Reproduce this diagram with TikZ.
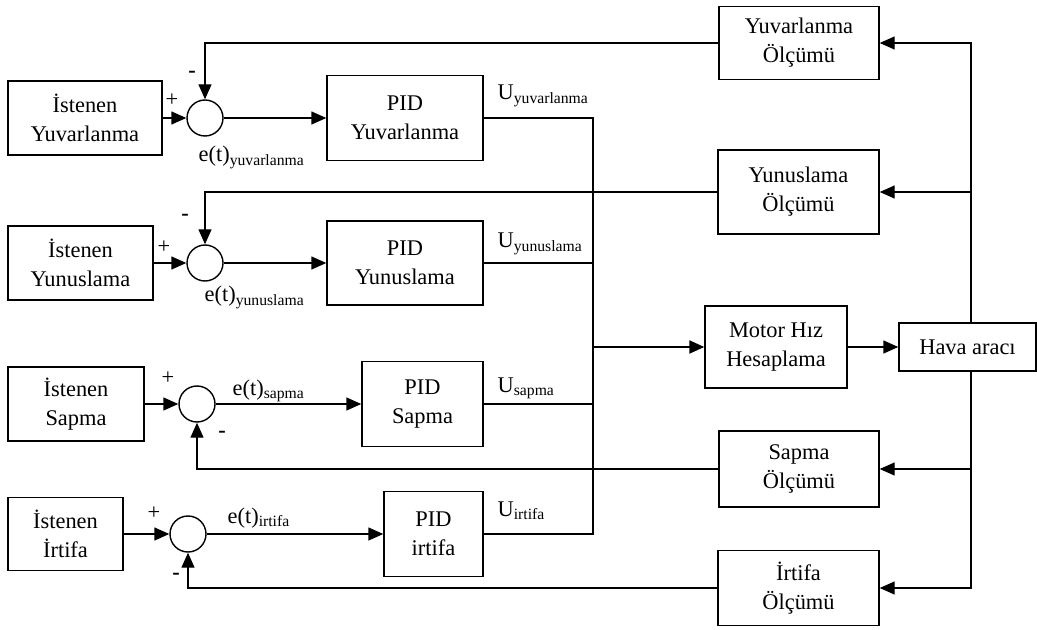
\documentclass[tikz,border=0pt]{standalone}
\usepackage{fontspec}
\setmainfont{Liberation Serif}
\usetikzlibrary{arrows.meta}
\begin{document}
\begin{tikzpicture}[x=0.5pt,y=-0.5pt,
  font=\fontsize{11.2pt}{14.5pt}\selectfont,
  line width=0.7pt,
  box/.style={draw,align=center,inner sep=0pt},
  summer/.style={draw,circle,minimum size=18pt,inner sep=0pt},
  arr/.style={-{Triangle[length=7.5pt,width=6.5pt]}},
  sign/.style={inner sep=0pt},
  lbl/.style={anchor=base west,inner sep=0pt}]
\useasboundingbox (0,0) rectangle (1037,630);

% reference inputs
\node[box,minimum width=77pt,minimum height=37pt] (isY) at (85,118) {İstenen\\Yuvarlanma};
\node[box,minimum width=72.5pt,minimum height=37pt] (isYn) at (80.5,263) {İstenen\\Yunuslama};
\node[box,minimum width=68pt,minimum height=37pt] (isS) at (76,404) {İstenen\\Sapma};
\node[box,minimum width=57.5pt,minimum height=36.5pt] (isI) at (65.5,534) {İstenen\\İrtifa};

% summing junctions
\node[summer] (s1) at (205,118) {};
\node[summer] (s2) at (205,263) {};
\node[summer] (s3) at (197,404) {};
\node[summer] (s4) at (188,534) {};

% controllers
\node[box,minimum width=78pt,minimum height=42.5pt] (pidY) at (405,118) {PID\\Yuvarlanma};
\node[box,minimum width=78pt,minimum height=42pt] (pidYn) at (405,263) {PID\\Yunuslama};
\node[box,minimum width=60.5pt,minimum height=42.5pt] (pidS) at (422.5,404) {PID\\Sapma};
\node[box,minimum width=49.5pt,minimum height=42.5pt] (pidI) at (433.5,534) {PID\\irtifa};

% plant side
\node[box,minimum width=71pt,minimum height=41pt] (motor) at (776,347) {Motor Hız\\Hesaplama};
\node[box,minimum width=68.5pt,minimum height=24pt] (hava) at (967.5,347) {Hava aracı};

% measurement blocks
\node[box,minimum width=80pt,minimum height=36.5pt] (mYv) at (799,43) {Yuvarlanma\\Ölçümü};
\node[box,minimum width=80.5pt,minimum height=42pt] (mYn) at (798.5,192) {Yunuslama\\Ölçümü};
\node[box,minimum width=80pt,minimum height=38pt] (mS) at (799,469) {Sapma\\Ölçümü};
\node[box,minimum width=80.5pt,minimum height=37.5pt] (mI) at (798.5,588) {İrtifa\\Ölçümü};

% junction points
\coordinate (jY) at (593,118);
\coordinate (jI) at (593,534);
\coordinate (jM) at (593,347);
\coordinate (bus) at (971,347);
\coordinate (rT) at (971,43);
\coordinate (rB) at (971,588);

% forward paths
\draw[arr] (isY) -- (s1);
\draw[arr] (isYn) -- (s2);
\draw[arr] (isS) -- (s3);
\draw[arr] (isI) -- (s4);
\draw[arr] (s1) -- (pidY);
\draw[arr] (s2) -- (pidYn);
\draw[arr] (s3) -- (pidS);
\draw[arr] (s4) -- (pidI);

% controller outputs merge into one bus
\draw (pidY) -- (jY) -- (jI) -- (pidI);
\draw (pidYn) -- (pidYn -| jY);
\draw (pidS) -- (pidS -| jY);
\draw[arr,line width=1.1pt] (jM) -- (motor);
\draw[arr] (motor) -- (hava);

% measurement bus
\draw[arr] (bus |- hava.north) -- (rT) -- (mYv);
\draw[arr] (rT |- mYn) -- (mYn);
\draw[arr] (bus |- hava.south) -- (rB) -- (mI);
\draw[arr] (rB |- mS) -- (mS);

% feedback paths
\draw[arr] (mYv) -| (s1);
\draw[arr] (mYn) -| (s2);
\draw[arr] (mS) -| (s3);
\draw[arr] (mI) -| (s4);

% signs
\node[sign] (p1) at (172,100) {+};
\node[sign] (p2) at (164,247) {+};
\node[sign] (p3) at (168,378) {+};
\node[sign] (p4) at (154,513) {+};
\node[sign] (n1) at (192,74) {\textbf{-}};
\node[sign] (n2) at (185,217) {\textbf{-}};
\node[sign] (n3) at (222,434) {\textbf{-}};
\node[sign] (n4) at (176,576) {\textbf{-}};

% error signals
\node[lbl] (eY) at (198,162) {e(t)\textsubscript{yuvarlanma}};
\node[lbl] (eYn) at (204,302) {e(t)\textsubscript{yunuslama}};
\node[lbl] (eS) at (232,395) {e(t)\textsubscript{sapma}};
\node[lbl] (eI) at (227,523) {e(t)\textsubscript{irtifa}};

% control signals
\node[lbl] (uY) at (497,100) {U\textsubscript{yuvarlanma}};
\node[lbl] (uYn) at (497,248) {U\textsubscript{yunuslama}};
\node[lbl] (uS) at (497,392) {U\textsubscript{sapma}};
\node[lbl] (uI) at (497,516) {U\textsubscript{irtifa}};
\end{tikzpicture}
\end{document}
